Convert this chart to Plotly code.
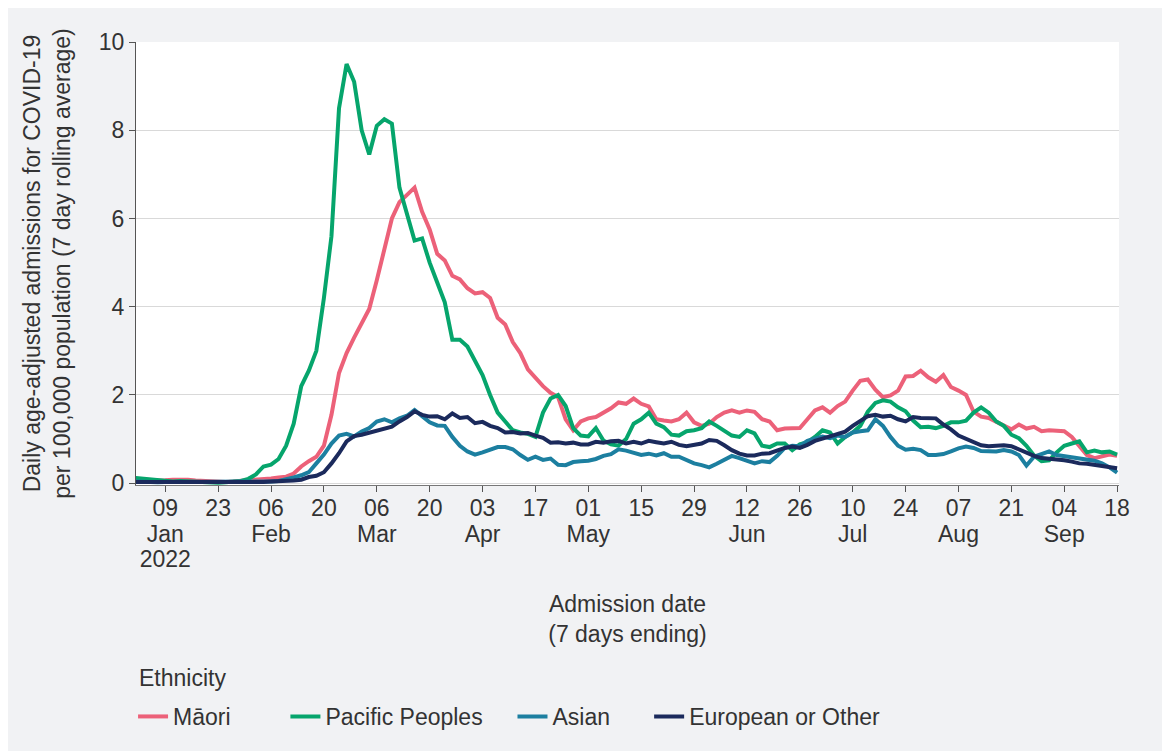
import pandas as pd
import plotly.graph_objects as go

# 7-day ending dates (every 2nd day shown)
dates = pd.date_range("2022-01-01", "2022-09-18", freq="2D")

maori = [
    0.05, 0.05, 0.06, 0.06, 0.07, 0.08, 0.09, 0.08, 0.06, 0.05, 0.04, 0.03, 0.03, 0.04, 0.05, 0.07,
    0.08, 0.10, 0.11, 0.13, 0.15, 0.22, 0.38, 0.50, 0.60, 0.85, 1.55, 2.50, 2.95, 3.30, 3.62, 3.95,
    4.60, 5.30, 6.00, 6.37, 6.55, 6.70, 6.15, 5.75, 5.20, 5.05, 4.70, 4.62, 4.42, 4.30, 4.33, 4.20,
    3.75, 3.60, 3.20, 2.95, 2.58, 2.38, 2.20, 2.05, 1.95, 1.45, 1.20, 1.40, 1.47, 1.50, 1.60, 1.70,
    1.83, 1.80, 1.92, 1.80, 1.74, 1.45, 1.42, 1.40, 1.45, 1.60, 1.38, 1.30, 1.35, 1.50, 1.60, 1.65,
    1.60, 1.65, 1.62, 1.45, 1.40, 1.20, 1.24, 1.24, 1.25, 1.45, 1.65, 1.72, 1.60, 1.75, 1.85, 2.10,
    2.32, 2.35, 2.12, 1.95, 1.99, 2.10, 2.42, 2.43, 2.55, 2.40, 2.30, 2.45, 2.18, 2.10, 2.00, 1.62,
    1.51, 1.48, 1.40, 1.30, 1.22, 1.33, 1.24, 1.28, 1.18, 1.20, 1.20, 1.18, 1.05, 0.85, 0.64, 0.57,
    0.61, 0.65, 0.62,
]

pacific = [
    0.12, 0.10, 0.08, 0.06, 0.05, 0.04, 0.05, 0.04, 0.03, 0.02, 0.02, 0.01, 0.02, 0.03, 0.05, 0.10,
    0.20, 0.38, 0.42, 0.55, 0.85, 1.35, 2.20, 2.55, 3.00, 4.20, 5.60, 8.50, 9.50, 9.10, 8.00, 7.45,
    8.10, 8.25, 8.15, 6.70, 6.10, 5.50, 5.55, 5.00, 4.55, 4.10, 3.25, 3.25, 3.10, 2.75, 2.45, 2.00,
    1.60, 1.40, 1.20, 1.15, 1.12, 1.05, 1.60, 1.92, 2.00, 1.75, 1.25, 1.08, 1.06, 1.25, 0.97, 0.88,
    0.85, 1.00, 1.35, 1.45, 1.60, 1.35, 1.27, 1.10, 1.08, 1.18, 1.20, 1.25, 1.40, 1.30, 1.18, 1.08,
    1.05, 1.20, 1.13, 0.85, 0.82, 0.90, 0.90, 0.75, 0.88, 0.93, 1.05, 1.20, 1.15, 0.90, 1.05, 1.15,
    1.30, 1.62, 1.82, 1.88, 1.85, 1.72, 1.63, 1.42, 1.27, 1.28, 1.25, 1.30, 1.38, 1.38, 1.42, 1.60,
    1.72, 1.60, 1.40, 1.30, 1.10, 1.02, 0.85, 0.63, 0.50, 0.52, 0.70, 0.85, 0.90, 0.95, 0.70, 0.74,
    0.70, 0.72, 0.65,
]

asian = [
    0.04, 0.03, 0.03, 0.02, 0.03, 0.03, 0.02, 0.03, 0.03, 0.02, 0.02, 0.02, 0.03, 0.02, 0.02, 0.03,
    0.03, 0.03, 0.04, 0.05, 0.08, 0.13, 0.18, 0.25, 0.45, 0.65, 0.90, 1.08, 1.12, 1.06, 1.17, 1.25,
    1.40, 1.45, 1.38, 1.47, 1.53, 1.66, 1.52, 1.38, 1.31, 1.30, 1.05, 0.85, 0.72, 0.65, 0.70, 0.75,
    0.82, 0.82, 0.77, 0.64, 0.53, 0.60, 0.53, 0.56, 0.42, 0.41, 0.48, 0.50, 0.51, 0.55, 0.62, 0.66,
    0.77, 0.74, 0.68, 0.64, 0.67, 0.63, 0.68, 0.60, 0.60, 0.52, 0.45, 0.41, 0.36, 0.44, 0.53, 0.62,
    0.57, 0.50, 0.45, 0.50, 0.48, 0.62, 0.80, 0.85, 0.84, 0.96, 1.00, 1.06, 1.02, 1.08, 1.05, 1.15,
    1.18, 1.20, 1.45, 1.30, 1.05, 0.85, 0.76, 0.78, 0.75, 0.64, 0.64, 0.66, 0.72, 0.79, 0.83, 0.80,
    0.73, 0.73, 0.72, 0.75, 0.72, 0.64, 0.40, 0.60, 0.67, 0.72, 0.64, 0.61, 0.60, 0.56, 0.54, 0.51,
    0.45, 0.36, 0.24,
]

european = [
    0.03, 0.03, 0.02, 0.02, 0.02, 0.02, 0.03, 0.02, 0.02, 0.02, 0.02, 0.01, 0.02, 0.02, 0.02, 0.02,
    0.03, 0.03, 0.04, 0.04, 0.05, 0.06, 0.08, 0.14, 0.17, 0.25, 0.45, 0.68, 0.95, 1.07, 1.10, 1.15,
    1.18, 1.25, 1.28, 1.40, 1.50, 1.63, 1.55, 1.51, 1.52, 1.45, 1.58, 1.48, 1.50, 1.36, 1.39, 1.30,
    1.25, 1.15, 1.16, 1.13, 1.14, 1.08, 1.03, 0.92, 0.93, 0.90, 0.92, 0.88, 0.88, 0.94, 0.92, 0.95,
    0.96, 0.90, 0.94, 0.90, 0.96, 0.93, 0.90, 0.94, 0.87, 0.84, 0.86, 0.90, 0.98, 0.96, 0.86, 0.75,
    0.67, 0.63, 0.63, 0.67, 0.68, 0.75, 0.80, 0.83, 0.80, 0.87, 0.96, 1.01, 1.06, 1.13, 1.17, 1.30,
    1.40, 1.52, 1.55, 1.51, 1.53, 1.45, 1.40, 1.50, 1.48, 1.47, 1.47, 1.33, 1.22, 1.08, 1.00, 0.93,
    0.86, 0.84, 0.85, 0.86, 0.84, 0.77, 0.68, 0.62, 0.57, 0.56, 0.53, 0.52, 0.49, 0.45, 0.44, 0.41,
    0.39, 0.35, 0.34,
]

series_names = ["Māori", "Pacific Peoples", "Asian", "European or Other"]
series_colors = ["#ec6179", "#06a56c", "#1c7fa0", "#1b2a5c"]
legend_ids = ["legend", "legend2", "legend3", "legend4"]
legend_x = [-0.003, 0.152, 0.383, 0.522]

# x-axis tick rows: day numbers, month names, year
tick_dates = pd.date_range("2022-01-09", "2022-09-18", freq="14D")
day_labels = ["09", "23", "06", "20", "06", "20", "03", "17", "01", "15", "29",
              "12", "26", "10", "24", "07", "21", "04", "18"]
month_dates = ["2022-01-09", "2022-02-06", "2022-03-06", "2022-04-03", "2022-05-01",
               "2022-06-12", "2022-07-10", "2022-08-07", "2022-09-04"]
month_labels = ["Jan", "Feb", "Mar", "Apr", "May", "Jun", "Jul", "Aug", "Sep"]
year_dates = ["2022-01-09"]
year_labels = ["2022"]
y_ticks = [0, 2, 4, 6, 8, 10]

font_family = "Liberation Sans, Arial, sans-serif"
text_color = "#333333"
fs = 23
x_range = ["2022-01-01 06:00", "2022-09-18 12:00"]

fig = go.Figure()
for name, vals, col, lg in zip(series_names, [maori, pacific, asian, european],
                               series_colors, legend_ids):
    fig.add_trace(go.Scatter(x=dates, y=vals, mode="lines", name=name, legend=lg,
                             line=dict(color=col, width=4)))

# empty helper traces so that the month and year label axes are drawn
for ax, vals in [("x2", month_dates), ("x3", year_dates)]:
    fig.add_trace(go.Scatter(x=vals, y=[None] * len(vals), xaxis=ax, yaxis="y",
                             mode="lines", showlegend=False, hoverinfo="skip"))

legends = {}
for lg, lx in zip(legend_ids, legend_x):
    legends[lg] = dict(orientation="h", x=lx, xanchor="left", y=-0.474, yanchor="top",
                       font=dict(size=fs, color=text_color), bgcolor="rgba(0,0,0,0)",
                       itemwidth=30)


def label_axis(vals, labels, standoff):
    return dict(
        type="date", overlaying="x", anchor="y", side="bottom",
        range=x_range, tickmode="array", tickvals=vals, ticktext=labels,
        ticks="outside", ticklen=6, tickcolor="rgba(0,0,0,0)",
        showgrid=False, showline=False, zeroline=False,
        ticklabelstandoff=standoff, tickfont=dict(size=fs, color=text_color),
    )


fig.update_layout(
    width=1170, height=751,
    margin=dict(l=128, r=59, t=34, b=274),
    paper_bgcolor="#f1f2f4",
    plot_bgcolor="#ffffff",
    font=dict(family=font_family, size=fs, color=text_color),
    showlegend=True,
    xaxis=dict(
        type="date", range=x_range,
        tickmode="array", tickvals=tick_dates, ticktext=day_labels,
        ticks="outside", ticklen=6, tickcolor="#555555",
        showgrid=False, showline=True, linecolor="#777777", linewidth=1,
        zeroline=False, ticklabelstandoff=-4,
        title=dict(text="Admission date<br>(7 days ending)", standoff=76,
                   font=dict(size=fs)),
        tickfont=dict(size=fs),
    ),
    xaxis2=label_axis(month_dates, month_labels, 22),
    xaxis3=label_axis(year_dates, year_labels, 47),
    yaxis=dict(
        range=[-0.04, 10.0],
        tickmode="array", tickvals=y_ticks,
        ticks="outside", ticklen=6, tickcolor="#555555",
        showgrid=True, gridcolor="#d9d9d9", gridwidth=1,
        showline=True, linecolor="#555555", linewidth=1,
        zeroline=False,
        title=dict(text="Daily age-adjusted admissions for COVID-19<br>per 100,000 population (7 day rolling average)",
                   standoff=21, font=dict(size=fs)),
        tickfont=dict(size=fs),
    ),
    annotations=[dict(text="Ethnicity", xref="paper", yref="paper", x=0.001, y=-0.4357,
                      xanchor="left", yanchor="middle", showarrow=False,
                      font=dict(size=fs, color=text_color))],
    **legends,
)

fig.write_html("out.html")
